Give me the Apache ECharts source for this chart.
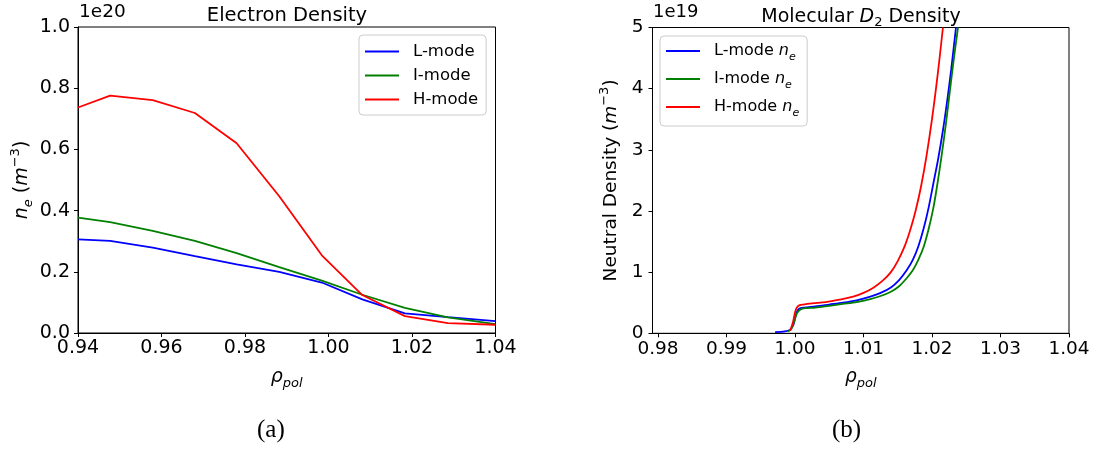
<!DOCTYPE html>
<html>
<head>
<meta charset="utf-8">
<script src="https://cdn.jsdelivr.net/npm/echarts@6/dist/echarts.min.js"></script>
<style>
  html, body { margin: 0; padding: 0; background: #fff; }
  #chart { width: 1100px; height: 449px; }
</style>
</head>
<body>
<div id="chart"></div>
<script>
// (a) electron density profiles vs rho_pol
const rhoA = [0.94, 0.9477, 0.9579, 0.9680, 0.9780, 0.9882, 0.9984, 1.0081, 1.0183, 1.0286, 1.04];
const neL = [0.306, 0.301, 0.279, 0.251, 0.224, 0.200, 0.165, 0.110, 0.064, 0.052, 0.039];
const neI = [0.377, 0.362, 0.334, 0.301, 0.261, 0.215, 0.171, 0.125, 0.082, 0.051, 0.029];
const neH = [0.737, 0.776, 0.761, 0.719, 0.620, 0.447, 0.254, 0.124, 0.055, 0.032, 0.027];
const namesA = ['L-mode', 'I-mode', 'H-mode'];

// (b) molecular D2 density (units of 1e19 m^-3), [rho_pol, n] pairs
const d2L = [[0.9971, 0.02], [0.9985, 0.03], [0.9993, 0.06], [0.9998, 0.15], [1.0002, 0.33], [1.0006, 0.40],
  [1.0013, 0.42], [1.0030, 0.44], [1.0050, 0.47], [1.0070, 0.50], [1.0090, 0.54], [1.0110, 0.60],
  [1.0125, 0.66], [1.0140, 0.75], [1.0152, 0.87], [1.0163, 1.03], [1.0172, 1.20], [1.0180, 1.42],
  [1.0188, 1.72], [1.0195, 2.05], [1.0202, 2.45], [1.0209, 2.85], [1.0216, 3.32], [1.0222, 3.79],
  [1.0228, 4.31], [1.0235, 5.0]];
const d2I = [[0.9990, 0.03], [0.9995, 0.08], [0.9999, 0.20], [1.0003, 0.33], [1.0008, 0.39], [1.0015, 0.41],
  [1.0030, 0.42], [1.0050, 0.45], [1.0070, 0.48], [1.0090, 0.51], [1.0110, 0.56], [1.0125, 0.61],
  [1.0140, 0.68], [1.0152, 0.77], [1.0163, 0.90], [1.0172, 1.03], [1.0180, 1.20], [1.0188, 1.42],
  [1.0195, 1.70], [1.0202, 2.05], [1.0208, 2.45], [1.0214, 2.90], [1.0220, 3.40], [1.0226, 3.95],
  [1.0232, 4.50], [1.0238, 5.0]];
const d2H = [[0.9993, 0.04], [0.9997, 0.18], [1.0001, 0.38], [1.0005, 0.45], [1.0012, 0.47], [1.0025, 0.49],
  [1.0045, 0.51], [1.0065, 0.55], [1.0085, 0.60], [1.0100, 0.66], [1.0115, 0.75], [1.0128, 0.86],
  [1.0140, 1.00], [1.0150, 1.18], [1.0160, 1.42], [1.0168, 1.68], [1.0176, 2.00], [1.0184, 2.40],
  [1.0192, 2.90], [1.0200, 3.50], [1.0208, 4.20], [1.0216, 5.0]];
const namesB = ['L-mode n_e', 'I-mode n_e', 'H-mode n_e'];
const ticksXB = [0.98, 0.99, 1.00, 1.01, 1.02, 1.03, 1.04];

const colors = ['#0000ff', '#008000', '#ff0000'];
const FONT = 'DejaVu Sans';

const chart = echarts.init(document.getElementById('chart'), null, { renderer: 'canvas' });

const axisCommon = {
  axisLine: { show: true, onZero: false, lineStyle: { color: '#000', width: 1 } },
  axisTick: { show: true, inside: false, length: 4, lineStyle: { color: '#000', width: 1 } },
  splitLine: { show: false }
};

const richMath = (size) => ({
  a: { fontFamily: FONT, fontWeight: 'normal', fontSize: size, color: '#000', lineHeight: 26, verticalAlign: 'middle' },
  i: { fontFamily: FONT, fontWeight: 'normal', fontStyle: 'italic', fontSize: size, color: '#000', lineHeight: 26, verticalAlign: 'middle' },
  sub: { fontFamily: FONT, fontWeight: 'normal', fontStyle: 'italic', fontSize: Math.round(size * 0.7), color: '#000', lineHeight: 12, verticalAlign: 'bottom' },
  sup: { fontFamily: FONT, fontWeight: 'normal', fontSize: Math.round(size * 0.7), color: '#000', lineHeight: 12, verticalAlign: 'top' }
});

const legendCommon = {
  orient: 'vertical', icon: 'rect', itemWidth: 34, itemHeight: 2,
  backgroundColor: 'rgba(255,255,255,0.8)', borderColor: '#cccccc',
  borderWidth: 1, borderRadius: 4, selectedMode: false
};

const option = {
  animation: false,
  backgroundColor: '#fff',
  title: [
    { text: 'Electron Density', left: 282, top: 1, textAlign: 'center',
      textStyle: { fontFamily: FONT, fontSize: 19.5, fontWeight: 'normal', color: '#000' } },
    { text: '{a|Molecular }{i|D}{s|2}{a| Density}', left: 856, top: 0, textAlign: 'center',
      textStyle: { fontWeight: 'normal', rich: {
        a: { fontFamily: FONT, fontWeight: 'normal', fontSize: 19, color: '#000', lineHeight: 24, verticalAlign: 'middle' },
        i: { fontFamily: FONT, fontWeight: 'normal', fontStyle: 'italic', fontSize: 19, color: '#000', lineHeight: 24, verticalAlign: 'middle' },
        s: { fontFamily: FONT, fontWeight: 'normal', fontSize: 13, color: '#000', lineHeight: 12, verticalAlign: 'bottom' }
      } } }
  ],
  graphic: [
    { type: 'text', left: 79, top: 3, style: { text: '1e20', font: '18.5px "DejaVu Sans"', fill: '#000' } },
    { type: 'text', left: 653, top: 3, style: { text: '1e19', font: '18px "DejaVu Sans"', fill: '#000' } },
    { type: 'text', left: 257, top: 418, style: { text: '(a)', font: '25px "Liberation Serif"', fill: '#000' } },
    { type: 'text', left: 832, top: 418, style: { text: '(b)', font: '25px "Liberation Serif"', fill: '#000' } }
  ],
  legend: [
    Object.assign({}, legendCommon, {
      data: namesA, left: 359, top: 35, itemGap: 7, padding: [8, 8, 7, 6],
      formatter: (n) => '{t|' + n + '}',
      textStyle: { rich: { t: { fontFamily: FONT, fontSize: 16.5, color: '#000', lineHeight: 22, padding: [0, 0, 0, 9] } } }
    }),
    Object.assign({}, legendCommon, {
      data: namesB, left: 660, top: 36, itemGap: 8, padding: [7, 8, 7, 6],
      formatter: (n) => '{t|' + n.replace(' n_e', ' ') + '}{i|n}{s|e}',
      textStyle: { rich: {
        t: { fontFamily: FONT, fontSize: 16, color: '#000', padding: [0, 0, 0, 9], lineHeight: 24, verticalAlign: 'middle' },
        i: { fontFamily: FONT, fontStyle: 'italic', fontSize: 16, color: '#000', lineHeight: 24, verticalAlign: 'middle' },
        s: { fontFamily: FONT, fontStyle: 'italic', fontSize: 11, color: '#000', lineHeight: 10, verticalAlign: 'bottom' }
      } }
    })
  ],
  grid: [
    { left: 78, top: 27, width: 417.5, height: 306, show: true, borderColor: '#000', borderWidth: 1, backgroundColor: 'transparent' },
    { left: 652.5, top: 27.5, width: 416.5, height: 305.8, show: true, borderColor: '#000', borderWidth: 1, backgroundColor: 'transparent' }
  ],
  xAxis: [
    Object.assign({}, axisCommon, {
      type: 'value', gridIndex: 0, min: 0.94, max: 1.04, interval: 0.02,
      axisLabel: { color: '#000', fontFamily: FONT, fontSize: 19, margin: 6, formatter: (v) => v.toFixed(2) },
      name: '{i|ρ}{sub|pol}', nameLocation: 'middle', nameGap: 31,
      nameTextStyle: { rich: richMath(19) }
    }),
    Object.assign({}, axisCommon, {
      type: 'value', gridIndex: 1, min: 0.9792, max: 1.04,
      axisTick: Object.assign({}, axisCommon.axisTick, { customValues: ticksXB }),
      axisLabel: { color: '#000', fontFamily: FONT, fontSize: 18.5, margin: 6, customValues: ticksXB,
        formatter: (v) => v.toFixed(2) },
      name: '{i|ρ}{sub|pol}', nameLocation: 'middle', nameGap: 31,
      nameTextStyle: { rich: richMath(18.5) }
    })
  ],
  yAxis: [
    Object.assign({}, axisCommon, {
      type: 'value', gridIndex: 0, min: 0, max: 1.0, interval: 0.2,
      axisLabel: { color: '#000', fontFamily: FONT, fontSize: 19, margin: 8, formatter: (v) => v.toFixed(1) },
      name: '{i|n}{sub|e}{a| (}{i|m}{sup|−3}{a|)}', nameLocation: 'middle', nameGap: 43, nameRotate: 90,
      nameTextStyle: { rich: richMath(19) }
    }),
    Object.assign({}, axisCommon, {
      type: 'value', gridIndex: 1, min: 0, max: 5, interval: 1,
      axisLabel: { color: '#000', fontFamily: FONT, fontSize: 18.5, margin: 9, formatter: (v) => String(v) },
      name: '{a|Neutral Density (}{i|m}{sup|−3}{a|)}', nameLocation: 'middle', nameGap: 28, nameRotate: 90,
      nameTextStyle: { rich: richMath(18.5) }
    })
  ],
  series: [
    { name: namesA[0], type: 'line', xAxisIndex: 0, yAxisIndex: 0, data: rhoA.map((x, k) => [x, neL[k]]) },
    { name: namesA[1], type: 'line', xAxisIndex: 0, yAxisIndex: 0, data: rhoA.map((x, k) => [x, neI[k]]) },
    { name: namesA[2], type: 'line', xAxisIndex: 0, yAxisIndex: 0, data: rhoA.map((x, k) => [x, neH[k]]) },
    { name: namesB[0], type: 'line', xAxisIndex: 1, yAxisIndex: 1, data: d2L, smooth: 0.3 },
    { name: namesB[1], type: 'line', xAxisIndex: 1, yAxisIndex: 1, data: d2I, smooth: 0.3 },
    { name: namesB[2], type: 'line', xAxisIndex: 1, yAxisIndex: 1, data: d2H, smooth: 0.3 }
  ].map((s, k) => Object.assign(s, {
    symbol: 'none', color: colors[k % 3], clip: true,
    itemStyle: { color: colors[k % 3] },
    lineStyle: { color: colors[k % 3], width: 1.8 },
    emphasis: { disabled: true }
  }))
};

chart.setOption(option);
</script>
</body>
</html>
